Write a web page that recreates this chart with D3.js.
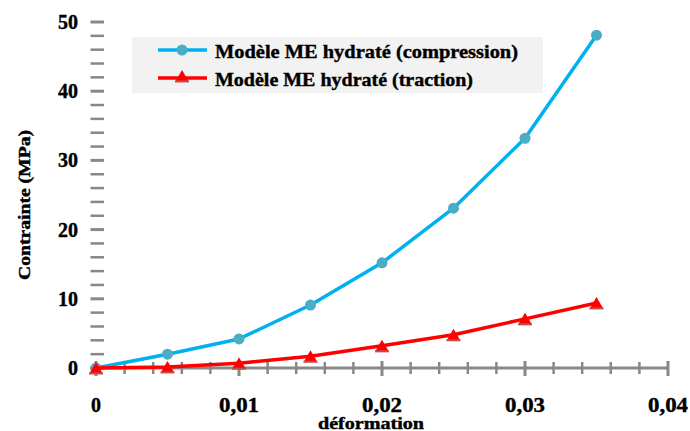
<!DOCTYPE html>
<html>
<head>
<meta charset="utf-8">
<script src="https://cdn.jsdelivr.net/npm/d3@7"></script>
<style>
  html, body { margin: 0; padding: 0; background: #ffffff; }
  svg { display: block; }
</style>
</head>
<body>
<svg id="chart" width="690" height="431"></svg>
<script>
// ---- data ----
const strain = [0, 0.005, 0.01, 0.015, 0.02, 0.025, 0.03, 0.035];
const compression = [0, 2.0, 4.2, 9.1, 15.2, 23.1, 33.2, 48.1];
const traction = [0, 0.15, 0.7, 1.7, 3.2, 4.8, 7.1, 9.4];
const seriesNames = ["Modèle ME hydraté (compression)", "Modèle ME hydraté (traction)"];
const xTickValues = [0, 0.01, 0.02, 0.03, 0.04];
const xTickLabels = ["0", "0,01", "0,02", "0,03", "0,04"];
const yTickValues = [0, 10, 20, 30, 40, 50];
const yTickLabels = ["0", "10", "20", "30", "40", "50"];
const xTitle = "déformation";
const yTitle = "Contrainte (MPa)";

const FONT = "Liberation Serif";

const svg = d3.select("#chart");
const x = d3.scaleLinear().domain([0, 0.04]).range([96, 668]);
const y = d3.scaleLinear().domain([0, 50]).range([368, 22]);

const axisGrey = "#888888";
const blueLine = "#00b0f0", blueMarker = "#4bacc6";
const redLine = "#ff0000", redDark = "#c0504d";

function txt(g) {
  return g.append("text")
    .style("font-family", FONT).style("font-weight", "bold")
    .attr("fill", "#000").attr("stroke", "#000").attr("stroke-width", 0.4);
}

// ---- y axis ticks (no spine) ----
const yMinor = d3.range(2, 50.001, 2);
svg.append("g").selectAll("line").data(yMinor).join("line")
  .attr("x1", 90.5).attr("x2", 104)
  .attr("y1", d => y(d)).attr("y2", d => y(d))
  .attr("stroke", axisGrey)
  .attr("stroke-width", d => (d % 10 === 0) ? 3 : 2.5);

const yLab = svg.append("g");
yTickValues.forEach((v, i) => {
  txt(yLab).attr("x", 78).attr("y", y(v) + 7)
    .attr("text-anchor", "end").attr("font-size", 20)
    .text(yTickLabels[i]);
});

// ---- x axis ----
svg.append("line")
  .attr("x1", 90).attr("x2", x(0.04))
  .attr("y1", y(0)).attr("y2", y(0))
  .attr("stroke", axisGrey).attr("stroke-width", 3);

const isMajor = d => Math.abs(d / 0.01 - Math.round(d / 0.01)) < 1e-6;
const xMinor = d3.range(0, 0.04001, 0.002);
svg.append("g").selectAll("line").data(xMinor).join("line")
  .attr("x1", d => x(d)).attr("x2", d => x(d))
  .attr("y1", d => isMajor(d) ? 361 : 362)
  .attr("y2", d => isMajor(d) ? 376 : 374)
  .attr("stroke", axisGrey)
  .attr("stroke-width", d => isMajor(d) ? 3 : 2.5);

const xLab = svg.append("g");
xTickValues.forEach((v, i) => {
  txt(xLab).attr("x", x(v)).attr("y", 412)
    .attr("text-anchor", "middle").attr("font-size", 20)
    .attr("textLength", i === 0 ? null : 40).attr("lengthAdjust", "spacingAndGlyphs")
    .text(xTickLabels[i]);
});

// ---- axis titles ----
txt(svg)
  .attr("x", 371).attr("y", 429)
  .attr("text-anchor", "middle")
  .attr("font-size", 16)
  .attr("textLength", 106).attr("lengthAdjust", "spacingAndGlyphs")
  .text(xTitle);

txt(svg)
  .attr("transform", "translate(30,205) rotate(-90)")
  .attr("text-anchor", "middle")
  .attr("font-size", 16)
  .attr("textLength", 150).attr("lengthAdjust", "spacingAndGlyphs")
  .text(yTitle);

// ---- lines ----
const pts = vals => strain.map((s, i) => [s, vals[i]]);
const line = d3.line().x(d => x(d[0])).y(d => y(d[1]));

svg.append("path").datum(pts(compression))
  .attr("d", line).attr("fill", "none")
  .attr("stroke", blueLine).attr("stroke-width", 3.5).attr("stroke-linejoin", "round");
svg.append("g").selectAll("circle").data(pts(compression)).join("circle")
  .attr("cx", d => x(d[0])).attr("cy", d => y(d[1])).attr("r", 5.5)
  .attr("fill", blueMarker);

svg.append("path").datum(pts(traction))
  .attr("d", line).attr("fill", "none")
  .attr("stroke", redLine).attr("stroke-width", 3.5).attr("stroke-linejoin", "round");

function triangle(g, cx, cy) {
  g.append("path")
    .attr("d", `M${cx},${cy - 6} L${cx + 7},${cy + 6} L${cx - 7},${cy + 6} Z`)
    .attr("fill", redLine);
  g.append("line")
    .attr("x1", cx - 7).attr("x2", cx + 7)
    .attr("y1", cy + 5.5).attr("y2", cy + 5.5)
    .attr("stroke", redDark).attr("stroke-width", 2);
}
const triG = svg.append("g");
pts(traction).forEach(d => triangle(triG, x(d[0]), y(d[1])));

// ---- legend ----
const lg = svg.append("g");
lg.append("rect").attr("x", 132).attr("y", 37).attr("width", 411).attr("height", 56)
  .attr("fill", "#f2f2f2");
lg.append("line").attr("x1", 158).attr("x2", 207).attr("y1", 50).attr("y2", 50)
  .attr("stroke", blueLine).attr("stroke-width", 3.5);
lg.append("circle").attr("cx", 182).attr("cy", 50).attr("r", 5.5).attr("fill", blueMarker);
lg.append("line").attr("x1", 158).attr("x2", 207).attr("y1", 78).attr("y2", 78)
  .attr("stroke", redLine).attr("stroke-width", 3.5);
triangle(lg, 182, 76);
txt(lg).attr("x", 215).attr("y", 58).attr("font-size", 19)
  .attr("textLength", 303).attr("lengthAdjust", "spacingAndGlyphs")
  .text(seriesNames[0]);
txt(lg).attr("x", 215).attr("y", 85.5).attr("font-size", 19)
  .attr("textLength", 258).attr("lengthAdjust", "spacingAndGlyphs")
  .text(seriesNames[1]);
</script>
</body>
</html>
